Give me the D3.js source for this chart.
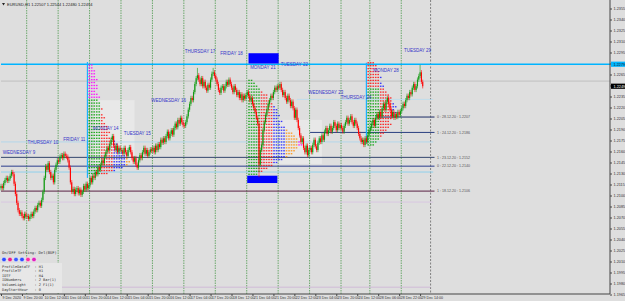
<!DOCTYPE html>
<html>
<head>
<meta charset="utf-8">
<script src="https://cdn.jsdelivr.net/npm/d3@7"></script>
<style>
html, body { margin: 0; padding: 0; background: #dedede; overflow: hidden; }
svg { display: block; font-family: Arial, "Liberation Sans", sans-serif; }
</style>
</head>
<body>
<svg id="chart" width="625" height="301"></svg>
<script>
// EURUSD H1 closes, one array per trading day
var wed09 = [1.2113,1.2110,1.2117,1.2121,1.2124,1.2120,1.2123,1.2127,1.2132,1.2129,1.2116,1.2102,1.2090,1.2080,1.2075,1.2077,1.2072,1.2069,1.2075,1.2071];
var thu10 = [1.2072,1.2068,1.2071,1.2075,1.2072,1.2078,1.2083,1.2080,1.2087,1.2090,1.2086,1.2094,1.2105,1.2124,1.2140,1.2135,1.2144,1.2132,1.2124,1.2127,1.2118,1.2135,1.2142,1.2148];
var fri11 = [1.2146,1.2153,1.2155,1.2151,1.2157,1.2154,1.2153,1.2148,1.2138,1.2118,1.2105,1.2109,1.2102,1.2108,1.2110,1.2103,1.2108,1.2101,1.2105,1.2113,1.2108,1.2116,1.2110,1.2114];
var mon14 = [1.2124,1.2118,1.2127,1.2124,1.2132,1.2129,1.2138,1.2135,1.2142,1.2148,1.2144,1.2153,1.2159,1.2165,1.2162,1.2170,1.2176,1.2181,1.2168,1.2162,1.2168,1.2159,1.2165,1.2162];
var tue15 = [1.2162,1.2157,1.2165,1.2159,1.2154,1.2162,1.2166,1.2159,1.2151,1.2146,1.2151,1.2142,1.2138,1.2148,1.2155,1.2151,1.2159,1.2165,1.2157,1.2162,1.2154,1.2159,1.2163,1.2161];
var wed16 = [1.2165,1.2159,1.2168,1.2162,1.2170,1.2166,1.2176,1.2172,1.2178,1.2173,1.2181,1.2187,1.2178,1.2184,1.2189,1.2183,1.2192,1.2198,1.2193,1.2203,1.2198,1.2206,1.2200,1.2196];
var thu17 = [1.2195,1.2200,1.2208,1.2217,1.2225,1.2233,1.2230,1.2241,1.2252,1.2260,1.2264,1.2258,1.2252,1.2260,1.2249,1.2255,1.2247,1.2243,1.2251,1.2247,1.2258,1.2266,1.2268,1.2263];
var fri18 = [1.2258,1.2252,1.2244,1.2240,1.2247,1.2249,1.2243,1.2249,1.2255,1.2251,1.2258,1.2252,1.2247,1.2241,1.2249,1.2244,1.2237,1.2241,1.2233,1.2238,1.2230,1.2236,1.2232,1.2237];
var mon21 = [1.2241,1.2236,1.2230,1.2233,1.2225,1.2219,1.2214,1.2206,1.2198,1.2142,1.2162,1.2169,1.2189,1.2200,1.2210,1.2217,1.2225,1.2230,1.2236,1.2233,1.2241,1.2247,1.2244,1.2249];
var tue22 = [1.2247,1.2252,1.2244,1.2237,1.2241,1.2233,1.2228,1.2236,1.2230,1.2222,1.2228,1.2219,1.2206,1.2217,1.2203,1.2192,1.2182,1.2173,1.2178,1.2165,1.2159,1.2168,1.2155,1.2162];
var wed23 = [1.2165,1.2159,1.2169,1.2176,1.2167,1.2162,1.2172,1.2178,1.2173,1.2182,1.2176,1.2187,1.2192,1.2184,1.2189,1.2195,1.2187,1.2192,1.2200,1.2195,1.2189,1.2198,1.2192,1.2196];
var thu24 = [1.2192,1.2187,1.2195,1.2200,1.2206,1.2198,1.2203,1.2208,1.2200,1.2195,1.2203,1.2198,1.2192,1.2184,1.2178,1.2173,1.2176,1.2169,1.2178,1.2173,1.2182,1.2189];
var mon28 = [1.2192,1.2198,1.2203,1.2195,1.2206,1.2211,1.2206,1.2214,1.2208,1.2219,1.2225,1.2217,1.2228,1.2233,1.2225,1.2217,1.2208,1.2214,1.2206,1.2211,1.2207,1.2214,1.2210,1.2215];
var tue29 = [1.2219,1.2225,1.2222,1.2230,1.2236,1.2233,1.2241,1.2238,1.2247,1.2252,1.2244,1.2249,1.2258,1.2263,1.2268,1.2255,1.2249];
var firstOpen = 1.2110;

// long wicks
var highBars = [150, 162, 320];
var highVals = [1.2274, 1.2274, 1.2278];
var lowBars = [197];
var lowVals = [1.2125];

// days
var dayStarts = [0,20,44,68,92,116,140,164,188,212,236,260,282,306];
var dayMid = [8,32,56,80,104,128,152,176,200,224,248,271,294,318];
var dayNames = ["WEDNESDAY 9","THURSDAY 10","FRIDAY 11","MONDAY 14","TUESDAY 15","WEDNESDAY 16","THURSDAY 17","FRIDAY 18","MONDAY 21","TUESDAY 22","WEDNESDAY 23","THURSDAY 24","MONDAY 28","TUESDAY 29"];
var dayLabelPrice = [1.2159,1.2172,1.2177,1.2192,1.2184,1.2230,1.2297,1.2294,1.2274,1.2279,1.2240,1.2233,1.2271,1.2298];

// axes
var priceTicks = [1.2355,1.2340,1.2325,1.2310,1.2295,1.2280,1.2265,1.2250,1.2235,1.2220,1.2205,1.2190,1.2175,1.2160,1.2145,1.2130,1.2115,1.2100,1.2085,1.2070,1.2055,1.2040,1.2025,1.2010,1.1995,1.1980,1.1965];
var timeBars = [0,16,32,48,64,80,96,112,128,144,160,176,192,208,224,240,256,272,288,304,320];
var timeLabels = ["9 Dec 2020","9 Dec 20:00","10 Dec 12:00","11 Dec 04:00","11 Dec 20:00","14 Dec 12:00","15 Dec 04:00","15 Dec 20:00","16 Dec 12:00","17 Dec 04:00","17 Dec 20:00","18 Dec 12:00","21 Dec 04:00","21 Dec 20:00","22 Dec 12:00","23 Dec 04:00","23 Dec 20:00","24 Dec 12:00","28 Dec 06:00","28 Dec 22:00","29 Dec 14:00"];

// horizontal levels
var levelPrice = [1.2279, 1.2256, 1.2231, 1.2173, 1.2132, 1.2091, 1.1975];
var levelFrom  = [0, 0, 226, 0, 0, 0, 0];
var levelTo    = [465, 465, 330, 330, 330, 330, 328];
var idPrice = [1.2207, 1.2186, 1.2152, 1.2140, 1.2106];
var idFrom  = [287, 236, 0, 0, 0];
var idText  = ["0 : 28.12.20 : 1.2207","1 : 24.12.20 : 1.2186","1 : 23.12.20 : 1.2152","0 : 22.12.20 : 1.2140","1 : 18.12.20 : 1.2106"];

// markers, boxes, profiles
var markerBars = [66, 279];
var markerTop = [1.2282, 1.2281];
var markerBottom = [1.2124, 1.2171];
var boxFrom = [189, 188], boxTo = [212, 211];
var boxHi = [1.2294, 1.2127], boxLo = [1.2280, 1.2117];
var vaFrom = [71, 201], vaTo = [102, 245];
var vaHi = [1.2230, 1.2203], vaLo = [1.2143, 1.2143];
var profA = [2,2,3,3,3,4,3,4,4,3,4,5,4,5,5,6,5,6,7,6,7,8,8,9,8,10,11,12,11,13,14,15,16,17,16,14,11,8];
var profB = [2,3,4,5,6,8,8,9,10,11,12,12,13,12,14,13,15,16,18,19,20,21,22,20,19,18,16,14,12,10,8,6,4,2];
var profC = [3,4,4,5,5,6,5,6,7,7,8,9,10,10,11,12,11,12,11,10,9,10,9,8,7,6,5,4,3];
var profStart = [66, 188, 279];
var profTop = [1.2278, 1.2257, 1.2281];
var tpoStep = 0.0004;

var infoLines = ["ProfileDataTF  : H1","ProfileTF      : H1","IDTF           : H4","IDNumbers      : 2 Bar(1)","VolumeLight    : 2 F1(1)","DayStartHour   : 0"];
var dotColors = ["#2f4dff","#e8208a","#3b5bff","#2f4dff","#ff2fa0","#e020c0"];

/////////////

var closes = [].concat(wed09, thu10, fri11, mon14, tue15, wed16, thu17, fri18, mon21, tue22, wed23, thu24, mon28, tue29);
var wick = 0.0003;
var bars = closes.map(function(c, i) {
  var o = i == 0 ? firstOpen : closes[i - 1];
  var h = Math.max(o, c) + wick, l = Math.min(o, c) - wick;
  var hi = highBars.indexOf(i); if (hi >= 0) h = highVals[hi];
  var li = lowBars.indexOf(i); if (li >= 0) l = lowVals[li];
  return {i: i, o: o, c: c, h: h, l: l};
});

var svg = d3.select("#chart");
var plotR = 610, plotB = 294;

var x = d3.scaleLinear().domain([0, 465]).range([1, plotR]);
var y = d3.scaleLinear().domain([1.1965, 1.2355]).range([294.5, 8.5]);

svg.append("rect").attr("width", 625).attr("height", 301).attr("fill", "#dedede");

// value areas
svg.selectAll(".va").data(vaFrom).join("rect")
  .attr("x", function(d) { return x(d); })
  .attr("y", function(d, i) { return y(vaHi[i]); })
  .attr("width", function(d, i) { return x(vaTo[i]) - x(d); })
  .attr("height", function(d, i) { return y(vaLo[i]) - y(vaHi[i]); })
  .attr("fill", "#e8e8e8");

// day separators
svg.selectAll(".sep").data(dayStarts.slice(1)).join("line")
  .attr("x1", function(d) { return x(d) - 0.5; }).attr("x2", function(d) { return x(d) - 0.5; })
  .attr("y1", 0).attr("y2", plotB)
  .attr("stroke", "#4f9a4f").attr("stroke-width", 0.8).attr("stroke-dasharray", "1.5,1");

svg.append("line")
  .attr("x1", x(328)).attr("x2", x(328)).attr("y1", 0).attr("y2", plotB)
  .attr("stroke", "#6a6a6a").attr("stroke-width", 0.8).attr("stroke-dasharray", "2,1.5");

// levels
var levelColor = ["#00b4ff", "#b8b8b8", "#b9dcef", "#aad6ee", "#8fd0ec", "#d7c2e2", "#cdb2d6"];
var levelWidth = [1.3, 0.8, 0.8, 0.8, 1, 0.8, 0.8];
svg.selectAll(".lvl").data(levelPrice).join("line")
  .attr("x1", function(d, i) { return x(levelFrom[i]); })
  .attr("x2", function(d, i) { return Math.min(x(levelTo[i]), plotR); })
  .attr("y1", function(d) { return y(d); }).attr("y2", function(d) { return y(d); })
  .attr("stroke", function(d, i) { return levelColor[i]; })
  .attr("stroke-width", function(d, i) { return levelWidth[i]; });

var idColor = ["#1c2b66", "#2a3f80", "#34466e", "#2a3c8c", "#5a2244"];
svg.selectAll(".idl").data(idPrice).join("line")
  .attr("x1", function(d, i) { return x(idFrom[i]); }).attr("x2", x(331))
  .attr("y1", function(d) { return y(d); }).attr("y2", function(d) { return y(d); })
  .attr("stroke", function(d, i) { return idColor[i]; }).attr("stroke-width", 1);
svg.selectAll(".idt").data(idText).join("text")
  .attr("x", x(333)).attr("y", function(d, i) { return y(idPrice[i]) + 1.3; })
  .attr("font-size", 3.6).attr("fill", "#555").text(function(d) { return d; });

// profiles
var tpoColors = ["#00a000", "#ff1010", "#1a1aff", "#ff8c00", "#ff00ff", "#d8c400"];
[profA, profB, profC].forEach(function(rows, p) {
  var top = Math.floor(rows.length / 3);
  rows.forEach(function(n, r) {
    var py = y(profTop[p] - r * tpoStep);
    for (var k = 0; k < n; k++) {
      var grp = Math.min(Math.floor(k / 5), 5);
      if (p == 0 && r < top) grp = (grp + 4) % 6;
      if (p == 2 && r < top) grp = (grp + 1) % 6;
      svg.append("rect")
        .attr("x", x(profStart[p]) + 1 + k * 2.5).attr("y", py - 0.65)
        .attr("width", 1.6).attr("height", 1.3)
        .attr("fill", tpoColors[grp]).attr("opacity", 0.85);
    }
  });
});

// markers and boxes
svg.selectAll(".mk").data(markerBars).join("line")
  .attr("x1", function(d) { return x(d); }).attr("x2", function(d) { return x(d); })
  .attr("y1", function(d, i) { return y(markerTop[i]); })
  .attr("y2", function(d, i) { return y(markerBottom[i]); })
  .attr("stroke", "#1ab0ff").attr("stroke-width", 1.2);

svg.selectAll(".bx").data(boxFrom).join("rect")
  .attr("x", function(d) { return x(d); })
  .attr("y", function(d, i) { return y(boxHi[i]); })
  .attr("width", function(d, i) { return x(boxTo[i]) - x(d); })
  .attr("height", function(d, i) { return y(boxLo[i]) - y(boxHi[i]); })
  .attr("fill", "#0000ff");

// candles
var candle = svg.append("g");
candle.selectAll("line").data(bars).join("line")
  .attr("x1", function(d) { return x(d.i); }).attr("x2", function(d) { return x(d.i); })
  .attr("y1", function(d) { return y(d.h); }).attr("y2", function(d) { return y(d.l); })
  .attr("stroke", function(d) { return d.c >= d.o ? "#129a12" : "#ff0000"; })
  .attr("stroke-width", 0.6);
candle.selectAll("rect").data(bars).join("rect")
  .attr("x", function(d) { return x(d.i) - 0.55; })
  .attr("y", function(d) { return y(Math.max(d.o, d.c)); })
  .attr("width", 1.1)
  .attr("height", function(d) { return Math.max(0.6, Math.abs(y(d.o) - y(d.c))); })
  .attr("fill", function(d) { return d.c >= d.o ? "#129a12" : "#ff0000"; });

// day names
svg.selectAll(".day").data(dayNames).join("text")
  .attr("x", function(d, i) { return Math.max(x(dayMid[i]), 19); })
  .attr("y", function(d, i) { return y(dayLabelPrice[i]) + 1.5; })
  .attr("text-anchor", "middle").attr("font-size", 4.5).attr("fill", "#3535c8")
  .text(function(d) { return d; });

// right axis
var yAxis = d3.axisRight(y).tickValues(priceTicks).tickSize(2).tickFormat(d3.format(".4f"));
var ga = svg.append("g").attr("transform", "translate(" + plotR + ",0)").call(yAxis);
ga.select(".domain").attr("stroke", "#444").attr("d", "M0,0V" + plotB);
ga.selectAll("line").attr("stroke", "#444");
ga.selectAll("text").attr("font-size", 3.8).attr("fill", "#333").attr("x", 3.5).attr("font-family", "Arial");

function priceTag(p, bg, fg) {
  var t = svg.append("g").attr("transform", "translate(" + (plotR + 1) + "," + y(p) + ")");
  t.append("rect").attr("x", 0).attr("y", -2.6).attr("width", 14).attr("height", 5.2).attr("fill", bg);
  t.append("text").attr("x", 2.5).attr("y", 1.4).attr("font-size", 3.8).attr("fill", fg).text(d3.format(".4f")(p));
}
priceTag(levelPrice[0], "#00b4ff", "#1a1a1a");
priceTag(closes[closes.length - 1], "#000", "#fff");

// bottom axis
var xAxis = d3.axisBottom(x).tickValues(timeBars).tickSize(2).tickFormat(function(d, i) { return timeLabels[i]; });
var gb = svg.append("g").attr("transform", "translate(0," + plotB + ")").call(xAxis);
gb.select(".domain").attr("stroke", "#444").attr("d", "M0,0H" + plotR);
gb.selectAll("line").attr("stroke", "#444");
gb.selectAll("text").attr("font-size", 3.6).attr("fill", "#333").attr("text-anchor", "start")
  .attr("dx", 1).attr("y", 2.2).attr("font-family", "Arial");

// title
svg.append("path").attr("d", "M2,3L5,3L3.5,5.5Z").attr("fill", "#222");
svg.append("text").attr("x", 7).attr("y", 5.6).attr("font-size", 4).attr("fill", "#222")
  .text("EURUSD,H1  1.22507 1.22544 1.22480 1.22494");

// settings panel
svg.append("text").attr("x", 2).attr("y", 254).attr("font-size", 3.8).attr("fill", "#333")
  .attr("font-family", "DejaVu Sans Mono, monospace").text("On/OFF Setting: Del(BUF)");
svg.selectAll(".dot").data(dotColors).join("circle")
  .attr("cx", function(d, i) { return 4 + i * 6; }).attr("cy", 259.5).attr("r", 2.3)
  .attr("fill", function(d) { return d; }).attr("stroke", "#fff").attr("stroke-width", 0.5);
svg.append("rect").attr("x", 0).attr("y", 263).attr("width", 62).attr("height", 30).attr("fill", "#e7e7e7");
svg.selectAll(".info").data(infoLines).join("text")
  .attr("x", 2).attr("y", function(d, i) { return 267.5 + i * 4.6; })
  .attr("font-size", 3.6).attr("fill", "#333").attr("font-family", "DejaVu Sans Mono, monospace")
  .style("white-space", "pre")
  .text(function(d) { return d; });
</script>
</body>
</html>
